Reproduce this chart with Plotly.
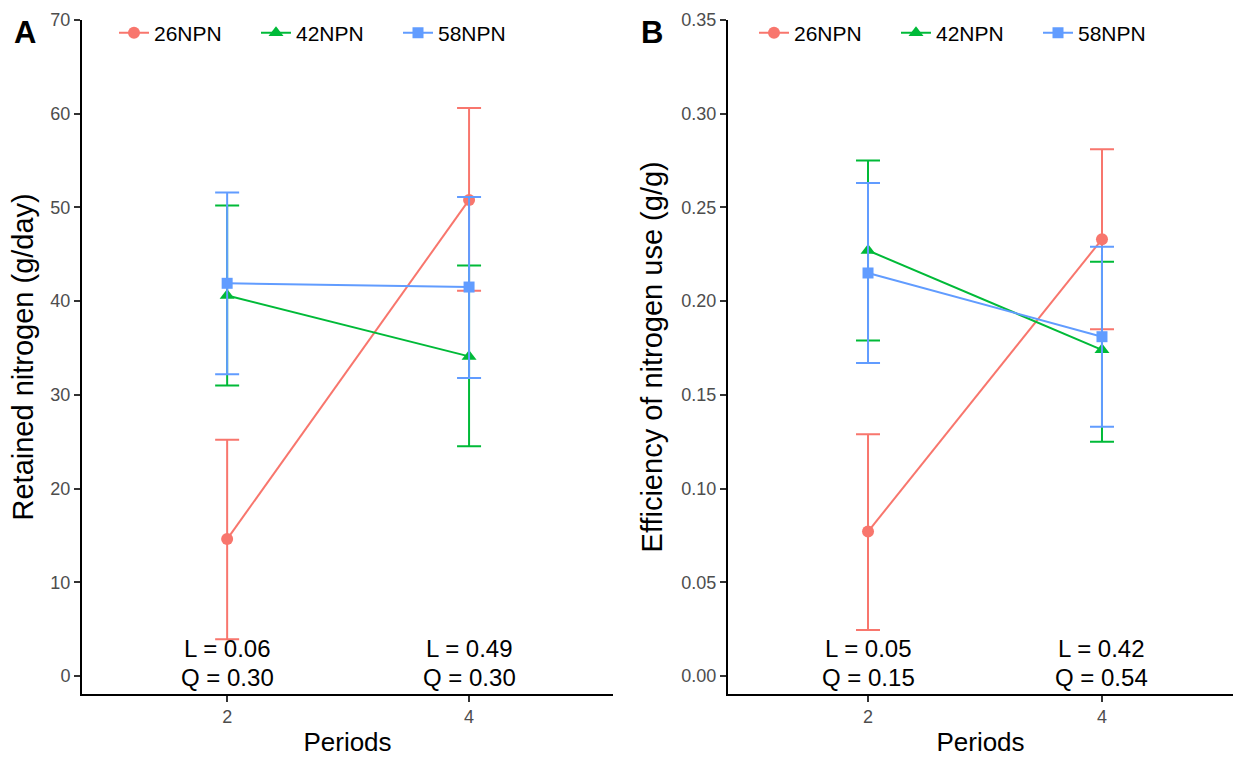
import plotly.graph_objects as go

periods = [2, 4]
series_names = ["26NPN", "42NPN", "58NPN"]
colors = ["#F8766D", "#00BA38", "#619CFF"]
symbols = ["circle", "triangle-up", "square"]
msizes = [12, 13, 11]

# Panel A: Retained nitrogen (g/day)
retN_mean = {"26NPN": [14.6, 50.8], "42NPN": [40.6, 34.1], "58NPN": [41.9, 41.5]}
retN_low = {"26NPN": [3.9, 41.1], "42NPN": [31.0, 24.5], "58NPN": [32.2, 31.8]}
retN_high = {"26NPN": [25.2, 60.6], "42NPN": [50.2, 43.8], "58NPN": [51.6, 51.1]}
retN_L = ["L = 0.06", "L = 0.49"]
retN_Q = ["Q = 0.30", "Q = 0.30"]

# Panel B: Efficiency of nitrogen use (g/g)
eff_mean = {"26NPN": [0.077, 0.233], "42NPN": [0.227, 0.174], "58NPN": [0.215, 0.181]}
eff_low = {"26NPN": [0.0245, 0.185], "42NPN": [0.179, 0.125], "58NPN": [0.167, 0.133]}
eff_high = {"26NPN": [0.129, 0.281], "42NPN": [0.275, 0.221], "58NPN": [0.263, 0.229]}
eff_L = ["L = 0.05", "L = 0.42"]
eff_Q = ["Q = 0.15", "Q = 0.54"]

FONT = "Liberation Sans, Arial, sans-serif"
W, H = 1233, 757

fig = go.Figure()

def add_panel(mean, low, high, xa, ya, legend):
    for name, col, sym, ms in zip(series_names, colors, symbols, msizes):
        m = mean[name]
        up = [h - v for h, v in zip(high[name], m)]
        dn = [v - l for v, l in zip(m, low[name])]
        fig.add_trace(go.Scatter(
            x=periods, y=m, name=name, mode="lines+markers",
            xaxis=xa, yaxis=ya, legend=legend,
            line=dict(color=col, width=2),
            marker=dict(color=col, symbol=sym, size=ms),
            error_y=dict(type="data", array=up, arrayminus=dn, visible=True,
                         color=col, thickness=2, width=12),
        ))

add_panel(retN_mean, retN_low, retN_high, "x", "y", "legend")
add_panel(eff_mean, eff_low, eff_high, "x2", "y2", "legend2")

def px2paper_y(py):
    return 1 - py / H

ydom = [px2paper_y(693.7), px2paper_y(20)]

axis_common = dict(
    showline=True, linecolor="black", linewidth=2, mirror=False,
    ticks="outside", ticklen=6, tickwidth=1.5, tickcolor="#333333",
    showgrid=False, zeroline=False,
    tickfont=dict(family=FONT, size=18, color="#4D4D4D"),
)
xtitle_font = dict(family=FONT, size=26, color="black")
ytitle_font = dict(family=FONT, size=29, color="black")

fig.update_layout(
    width=W, height=H,
    margin=dict(l=0, r=0, t=0, b=0, autoexpand=False),
    paper_bgcolor="white", plot_bgcolor="white",
    font=dict(family=FONT),
    xaxis=dict(domain=[82 / W, 613 / W], range=[0.8, 5.19], tickvals=periods,
               title=dict(text="Periods", font=xtitle_font, standoff=10),
               anchor="y", **axis_common),
    yaxis=dict(domain=ydom, range=[-1.9, 70], tickvals=[0, 10, 20, 30, 40, 50, 60, 70],
               title=dict(text="Retained nitrogen (g/day)", font=ytitle_font, standoff=8),
               anchor="x", **axis_common),
    xaxis2=dict(domain=[728 / W, 1.0], range=[0.803, 5.12], tickvals=periods,
                title=dict(text="Periods", font=xtitle_font, standoff=10),
                anchor="y2", **axis_common),
    yaxis2=dict(domain=ydom, range=[-0.0095, 0.35],
                tickvals=[0, 0.05, 0.1, 0.15, 0.2, 0.25, 0.3, 0.35],
                ticktext=["0.00", "0.05", "0.10", "0.15", "0.20", "0.25", "0.30", "0.35"],
                title=dict(text="Efficiency of nitrogen use (g/g)", font=ytitle_font, standoff=10),
                anchor="x2", **axis_common),
    legend=dict(orientation="h", x=114 / W, y=px2paper_y(33), xanchor="left", yanchor="middle",
                font=dict(family=FONT, size=21, color="black"), bgcolor="rgba(0,0,0,0)",
                entrywidth=97, entrywidthmode="pixels"),
    legend2=dict(orientation="h", x=754 / W, y=px2paper_y(33), xanchor="left", yanchor="middle",
                 font=dict(family=FONT, size=21, color="black"), bgcolor="rgba(0,0,0,0)",
                 entrywidth=97, entrywidthmode="pixels"),
    showlegend=True,
)

annots = []
for xa, ya, Ls, Qs, yL, yQ in [("x", "y", retN_L, retN_Q, (676 - 649) / 9.371, (676 - 678) / 9.371),
                                ("x2", "y2", eff_L, eff_Q, (676 - 649) / 1874.3, (676 - 678) / 1874.3)]:
    for p, l, q in zip(periods, Ls, Qs):
        annots.append(dict(x=p, y=yL, xref=xa, yref=ya, text=l, showarrow=False,
                           font=dict(family=FONT, size=24, color="black"), yanchor="middle"))
        annots.append(dict(x=p, y=yQ, xref=xa, yref=ya, text=q, showarrow=False,
                           font=dict(family=FONT, size=24, color="black"), yanchor="middle"))

annots.append(dict(x=25 / W, y=px2paper_y(33), xref="paper", yref="paper", text="<b>A</b>",
                   showarrow=False, font=dict(family=FONT, size=31, color="black"),
                   xanchor="center", yanchor="middle"))
annots.append(dict(x=652 / W, y=px2paper_y(33), xref="paper", yref="paper", text="<b>B</b>",
                   showarrow=False, font=dict(family=FONT, size=31, color="black"),
                   xanchor="center", yanchor="middle"))
fig.update_layout(annotations=annots)

fig.write_html("out.html", config={"displayModeBar": False},
               post_script="document.body.style.margin='0';")
